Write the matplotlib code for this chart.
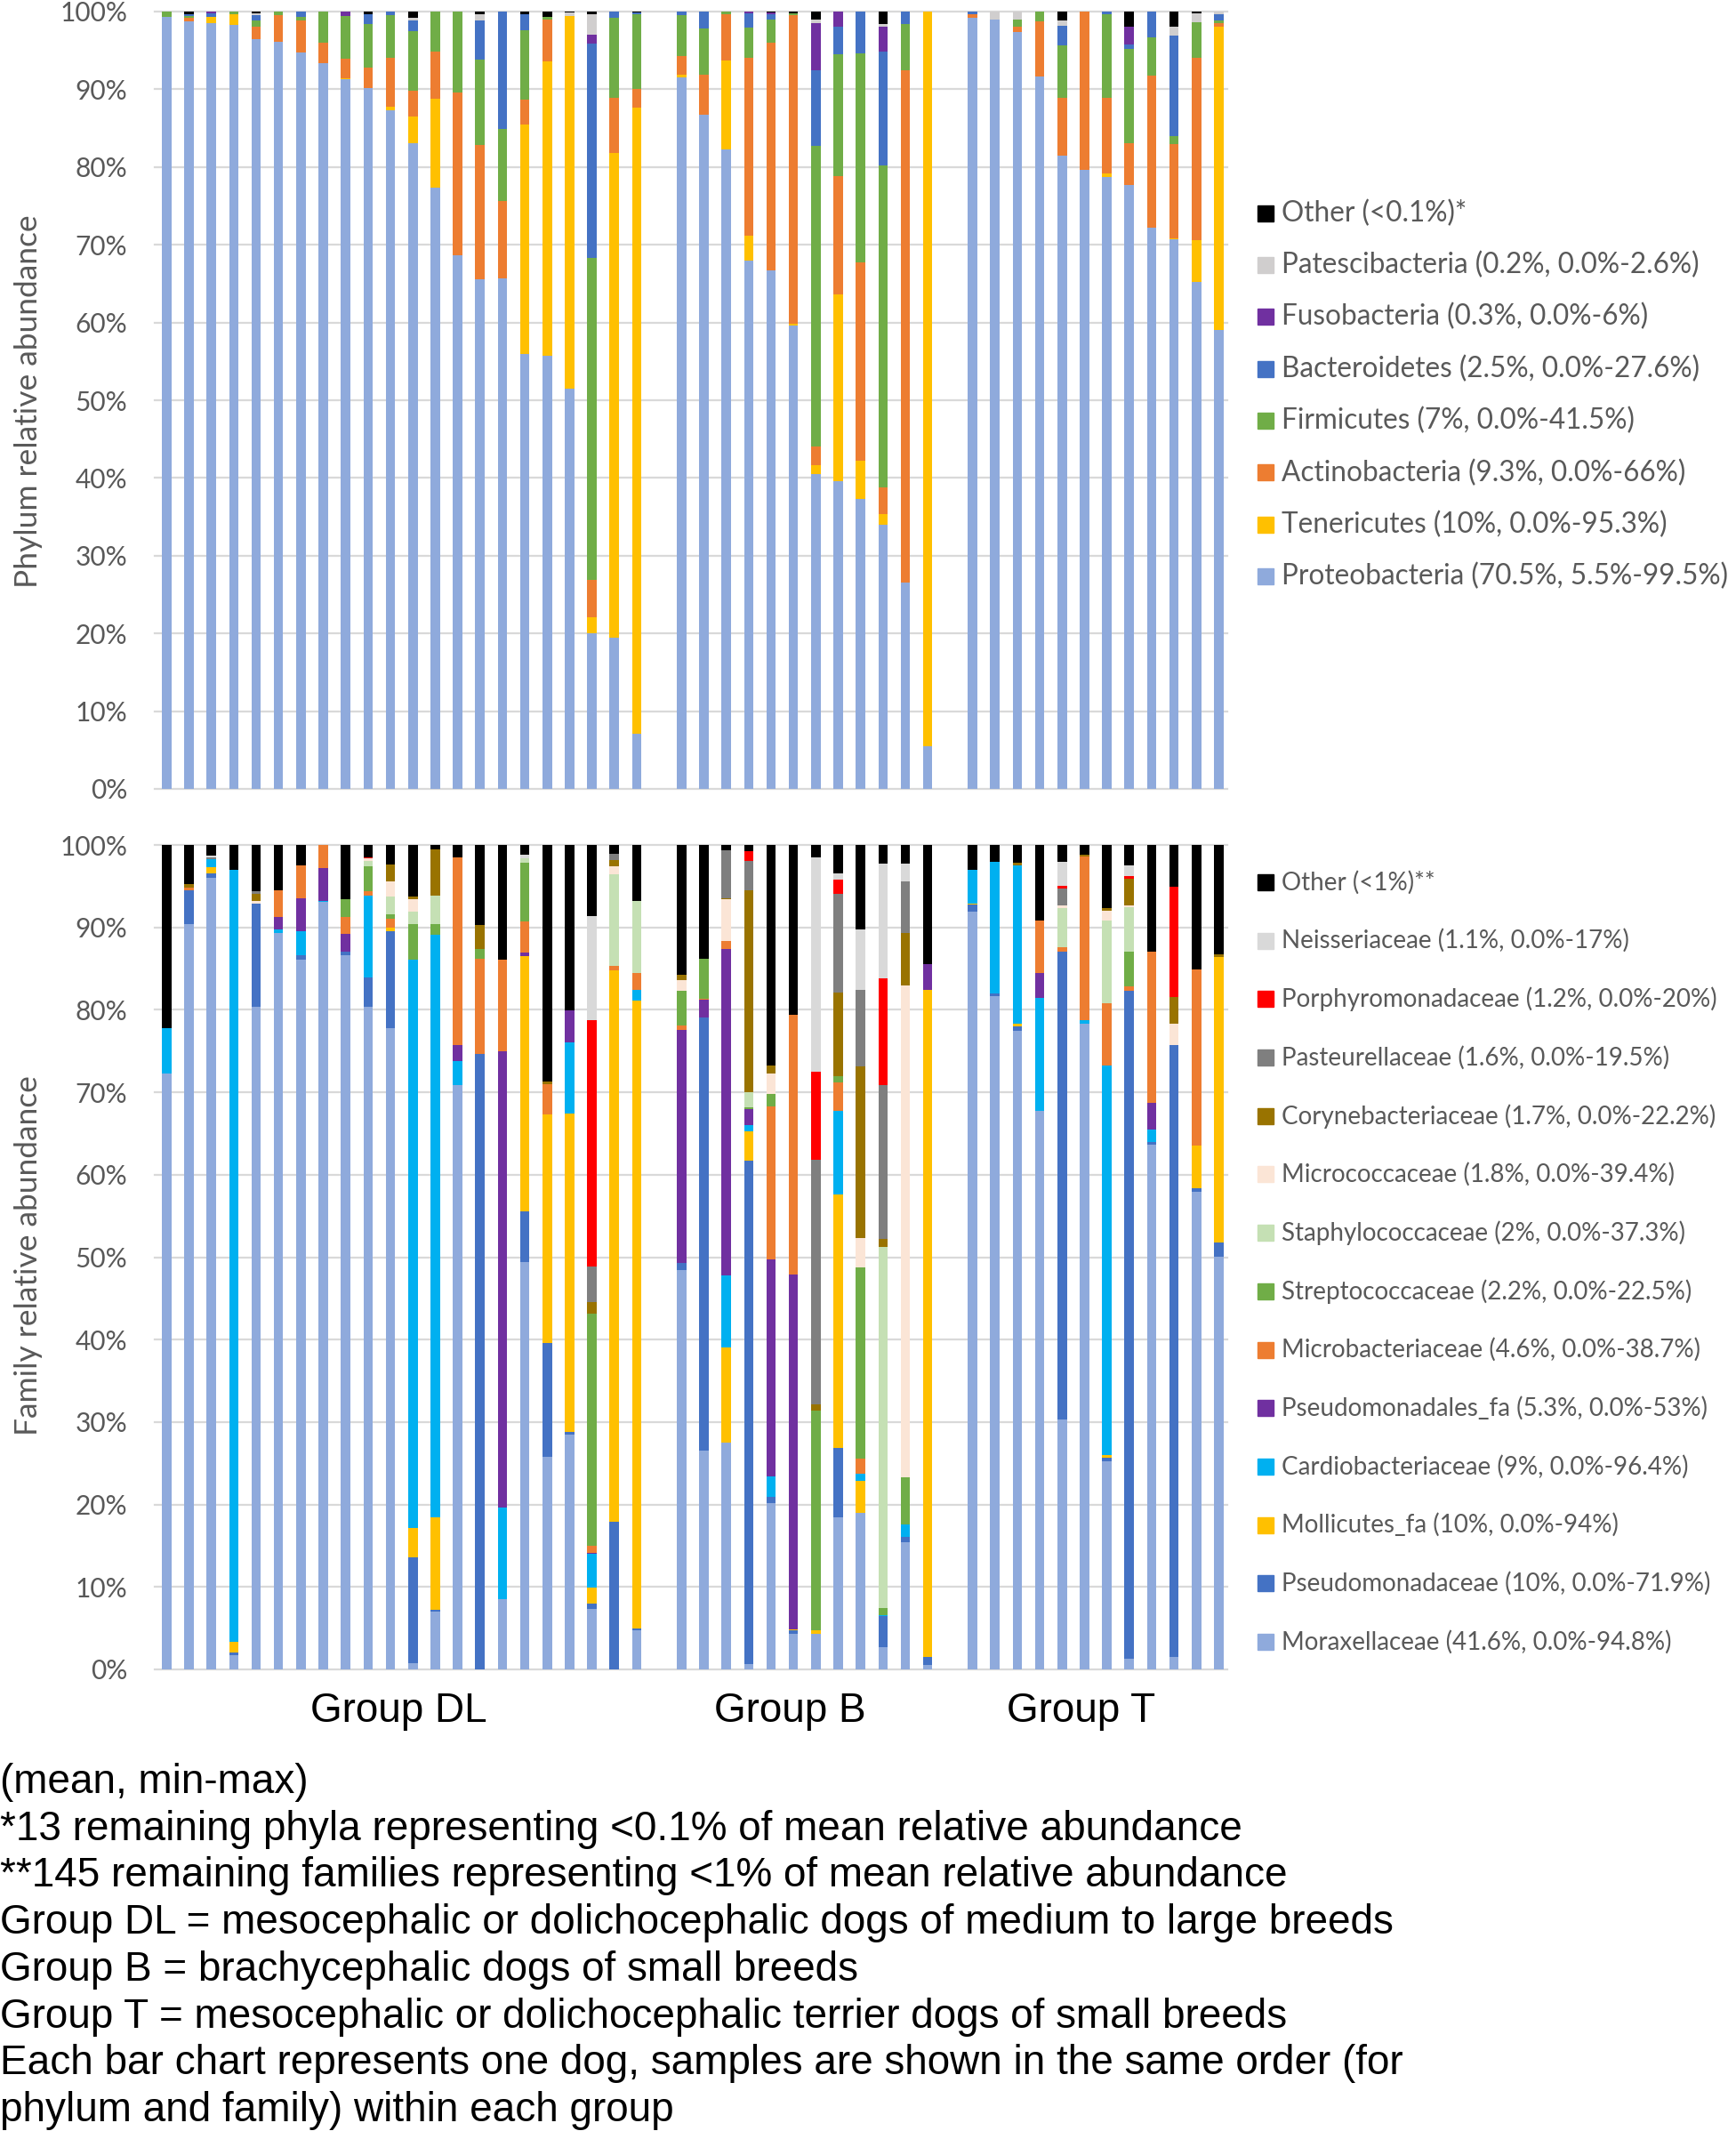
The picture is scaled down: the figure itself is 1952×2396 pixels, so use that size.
import numpy as np
import matplotlib.pyplot as plt
from matplotlib.patches import Rectangle
from matplotlib.transforms import blended_transform_factory

W, H = 1952, 2396

group_names = ['Group DL', 'Group B', 'Group T']
group_sizes = [22, 12, 12]

# ---- phylum level (DL x22 | B x12 | T x12), stacked bottom -> top ----
proteobacteria = [99.3, 98.7, 98.5, 98.3, 96.5, 96.1, 94.7, 93.4, 91.3, 90.2, 87.3, 83.1, 77.4, 68.6, 65.6, 65.7, 56.0, 55.7, 51.5, 20.0, 19.4, 7.1,
                  91.5, 86.7, 82.3, 68.0, 66.7, 59.6, 40.5, 39.6, 37.3, 34.0, 26.5, 5.5,
                  99.2, 99.0, 97.4, 91.6, 81.5, 79.6, 78.7, 77.7, 72.2, 70.7, 65.2, 59.0]
tenericutes = [0, 0, 0.8, 1.4, 0, 0, 0, 0, 0.1, 0, 0.5, 3.4, 11.4, 0, 0, 0, 29.5, 37.9, 47.9, 2.1, 62.4, 80.6,
               0.4, 0, 11.4, 3.2, 0, 0.2, 1.2, 24.0, 4.9, 1.4, 0, 94.5,
               0, 0, 0, 0, 0, 0, 0.5, 0, 0, 0.1, 5.4, 39.0]
actinobacteria = [0, 0.5, 0, 0, 1.5, 3.4, 4.1, 2.6, 2.5, 2.6, 6.3, 3.3, 6.0, 21.0, 17.2, 9.9, 3.2, 5.4, 0, 4.8, 7.1, 2.4,
                  2.4, 5.2, 6.0, 22.8, 29.3, 39.7, 2.3, 15.2, 25.5, 3.4, 65.9, 0,
                  0.4, 0, 0.6, 7.1, 7.4, 20.4, 9.7, 5.4, 19.6, 12.2, 23.4, 0.5]
firmicutes = [0.7, 0.2, 0, 0.3, 0.8, 0.5, 0.5, 4.0, 5.5, 5.6, 5.4, 7.7, 5.2, 10.4, 11.0, 9.3, 8.9, 0.3, 0, 41.4, 10.3, 9.6,
              5.2, 5.9, 0.3, 3.9, 3.0, 0.3, 38.7, 15.7, 26.9, 41.4, 6.0, 0,
              0, 0, 1.0, 1.3, 6.7, 0, 10.7, 12.1, 4.9, 1.0, 4.6, 0.3]
bacteroidetes = [0, 0.3, 0.5, 0, 0.7, 0, 0.7, 0, 0, 1.2, 0.5, 1.4, 0, 0, 5.1, 15.1, 2.1, 0, 0, 27.6, 0.8, 0.2,
                 0.5, 2.2, 0, 1.9, 0.7, 0, 9.8, 3.5, 5.4, 14.7, 1.6, 0,
                 0.4, 0, 0, 0, 2.6, 0, 0.4, 0.6, 3.3, 12.9, 0, 0.9]
fusobacteria = [0, 0, 0.2, 0, 0, 0, 0, 0, 0.6, 0, 0, 0, 0, 0, 0, 0, 0, 0, 0, 1.1, 0, 0,
                0, 0, 0, 0.2, 0.2, 0, 6.0, 2.0, 0, 3.2, 0, 0,
                0, 0, 0, 0, 0, 0, 0, 2.2, 0, 0, 0, 0]
patescibacteria = [0, 0, 0, 0, 0.3, 0, 0, 0, 0, 0, 0, 0.3, 0, 0, 0.8, 0, 0, 0, 0.5, 2.7, 0, 0,
                   0, 0, 0, 0, 0, 0, 0.5, 0, 0, 0.3, 0, 0,
                   0, 1.0, 1.0, 0, 0.6, 0, 0, 0, 0, 1.2, 1.2, 0.3]
other_phyla = [0, 0.3, 0, 0, 0.2, 0, 0, 0, 0, 0.4, 0, 0.8, 0, 0, 0.3, 0, 0.3, 0.7, 0.1, 0.3, 0, 0.1,
               0, 0, 0, 0, 0.1, 0.2, 1.0, 0, 0, 1.6, 0, 0,
               0, 0, 0, 0, 1.2, 0, 0, 2.0, 0, 1.9, 0.2, 0]

# ---- family level, same sample order ----
moraxellaceae = [72.3, 90.4, 96.0, 1.7, 80.4, 89.3, 86.1, 93.1, 86.6, 80.4, 77.8, 0.8, 7.0, 70.9, 0, 8.5, 49.4, 25.8, 28.5, 7.3, 0, 4.8,
                 48.4, 26.5, 27.5, 0.7, 20.2, 4.3, 4.3, 18.5, 19.0, 2.7, 15.4, 0.5,
                 91.9, 81.7, 77.5, 67.7, 30.3, 78.3, 25.2, 1.3, 63.7, 1.5, 57.9, 50.1]
pseudomonadaceae = [0, 4.1, 0.5, 0.3, 12.5, 0, 0.5, 0, 0.5, 3.5, 11.7, 12.8, 0.2, 0, 74.6, 0, 6.2, 13.8, 0.3, 0.7, 17.9, 0.2,
                    0.9, 52.6, 0, 61.0, 0.7, 0.5, 0, 8.4, 0, 3.8, 0.7, 1.0,
                    0.9, 0.3, 0.5, 0, 56.8, 0, 0.5, 81.0, 0.3, 74.2, 0.5, 1.7]
mollicutes_fa = [0, 0, 0.8, 1.3, 0, 0, 0, 0, 0, 0, 0.5, 3.5, 11.3, 0, 0, 0, 30.9, 27.7, 38.6, 1.9, 66.9, 76.1,
                 0, 0, 11.5, 3.6, 0, 0.1, 0.5, 30.7, 3.9, 0, 0, 80.9,
                 0.1, 0, 0.3, 0, 0, 0, 0.3, 0, 0, 0, 5.1, 34.6]
cardiobacteriaceae = [5.5, 0, 1.0, 93.7, 0, 0.5, 2.9, 0.1, 0, 10.0, 0, 69.0, 70.6, 2.9, 0, 11.1, 0, 0, 8.6, 4.1, 0, 1.3,
                      0, 0, 8.8, 0.7, 2.5, 0, 0, 10.1, 0.8, 0.1, 1.5, 0,
                      4.1, 15.9, 19.2, 13.7, 0, 0.5, 47.3, 0, 1.5, 0, 0, 0]
pseudomonadales_fa = [0, 0, 0, 0, 0, 1.5, 4.0, 4.0, 2.1, 0, 0, 0, 0, 1.9, 0, 55.4, 0.5, 0, 3.9, 0.1, 0, 0,
                      28.3, 2.1, 39.6, 2.0, 26.3, 43.0, 0, 0, 0, 0, 0, 3.1,
                      0, 0, 0, 3.1, 0, 0, 0, 0, 3.2, 0, 0, 0]
microbacteriaceae = [0, 0.3, 0, 0, 0, 3.2, 4.0, 2.8, 2.1, 0.5, 1.1, 0, 0, 22.8, 11.6, 11.1, 3.7, 3.7, 0, 0.9, 0.5, 2.1,
                     0.5, 0.1, 1.0, 0, 18.6, 31.5, 0, 3.5, 1.9, 0, 0, 0,
                     0, 0, 0, 6.3, 0.5, 19.8, 7.5, 0.5, 18.4, 0, 21.4, 0]
streptococcaceae = [0, 0, 0, 0, 0, 0, 0, 0, 2.1, 3.0, 0.5, 4.3, 1.3, 0, 1.2, 0, 7.1, 0, 0, 28.1, 0, 0,
                    4.2, 4.9, 0, 0.2, 1.5, 0, 26.6, 0.7, 23.2, 0.8, 5.7, 0,
                    0, 0, 0, 0, 0, 0, 0, 4.3, 0, 0, 0, 0]
staphylococcaceae = [0, 0, 0, 0, 0, 0, 0, 0, 0, 0.7, 2.1, 1.5, 3.5, 0, 0, 0, 0.6, 0, 0, 0, 11.1, 8.7,
                     0, 0, 0, 1.8, 0, 0, 0, 0, 0, 43.8, 0, 0,
                     0, 0, 0, 0, 4.7, 0, 10.0, 5.3, 0, 0, 0, 0]
micrococcaceae = [0, 0, 0, 0, 0.3, 0, 0, 0, 0, 0.3, 1.9, 1.5, 0, 0, 0, 0, 0, 0, 0, 0, 1.0, 0,
                  1.3, 0, 5.0, 0, 2.5, 0, 0, 0, 3.5, 0, 59.7, 0,
                  0, 0, 0, 0, 0.4, 0, 1.2, 0.3, 0, 2.6, 0, 0]
corynebacteriaceae = [0, 0.4, 0, 0, 0.9, 0, 0, 0, 0, 0, 2.0, 0.3, 5.6, 0, 2.9, 0, 0, 0.3, 0, 1.5, 0.8, 0,
                      0.7, 0, 0.1, 24.5, 1.0, 0, 0.7, 10.2, 20.8, 1.0, 6.3, 0,
                      0, 0, 0.3, 0, 0, 0.2, 0.3, 3.2, 0, 3.2, 0, 0.3]
pasteurellaceae = [0, 0, 0.2, 0, 0.3, 0, 0, 0, 0, 0, 0, 0, 0, 0, 0, 0, 0, 0, 0, 4.3, 0.7, 0,
                   0, 0, 5.9, 3.6, 0, 0, 29.7, 12.0, 9.3, 18.7, 6.3, 0,
                   0, 0, 0, 0, 2.0, 0, 0, 0, 0, 0, 0, 0]
porphyromonadaceae = [0, 0, 0, 0, 0, 0, 0, 0, 0, 0.1, 0, 0, 0, 0, 0, 0, 0, 0, 0, 29.9, 0, 0,
                      0, 0, 0, 1.1, 0, 0, 10.7, 1.7, 0, 12.9, 0, 0,
                      0, 0, 0, 0, 0.3, 0, 0, 0.3, 0, 13.4, 0, 0]
neisseriaceae = [0, 0, 0.2, 0, 0, 0, 0, 0, 0, 0, 0, 0, 0, 0, 0, 0, 0.4, 0, 0, 12.6, 0, 0,
                 0, 0, 0, 0, 0, 0, 26.0, 0.7, 7.3, 13.9, 2.1, 0,
                 0, 0, 0, 0, 2.9, 0, 0, 1.3, 0, 0, 0, 0]
other_families = [22.2, 4.8, 1.3, 3.0, 5.6, 5.5, 2.5, 0, 6.6, 1.5, 2.4, 6.3, 0.5, 1.5, 9.7, 13.9, 1.2, 28.7, 20.1, 8.6, 1.1, 6.8,
                  15.7, 13.8, 0.6, 0.8, 26.7, 20.6, 1.5, 3.5, 10.3, 2.3, 2.3, 14.5,
                  3.0, 2.1, 2.2, 9.2, 2.1, 1.2, 7.7, 2.5, 12.9, 5.1, 15.1, 13.3]

phylum_series = [proteobacteria, tenericutes, actinobacteria, firmicutes,
                 bacteroidetes, fusobacteria, patescibacteria, other_phyla]
phylum_labels = ['Proteobacteria (70.5%, 5.5%-99.5%)', 'Tenericutes (10%, 0.0%-95.3%)',
                 'Actinobacteria (9.3%, 0.0%-66%)', 'Firmicutes (7%, 0.0%-41.5%)',
                 'Bacteroidetes (2.5%, 0.0%-27.6%)', 'Fusobacteria (0.3%, 0.0%-6%)',
                 'Patescibacteria (0.2%, 0.0%-2.6%)', 'Other (<0.1%)*']
phylum_colors = ['#8FAADC', '#FFC000', '#ED7D31', '#70AD47',
                 '#4472C4', '#7030A0', '#D0CECE', '#000000']

family_series = [moraxellaceae, pseudomonadaceae, mollicutes_fa, cardiobacteriaceae,
                 pseudomonadales_fa, microbacteriaceae, streptococcaceae, staphylococcaceae,
                 micrococcaceae, corynebacteriaceae, pasteurellaceae, porphyromonadaceae,
                 neisseriaceae, other_families]
family_labels = ['Moraxellaceae (41.6%, 0.0%-94.8%)', 'Pseudomonadaceae (10%, 0.0%-71.9%)',
                 'Mollicutes_fa (10%, 0.0%-94%)', 'Cardiobacteriaceae (9%, 0.0%-96.4%)',
                 'Pseudomonadales_fa (5.3%, 0.0%-53%)', 'Microbacteriaceae (4.6%, 0.0%-38.7%)',
                 'Streptococcaceae (2.2%, 0.0%-22.5%)', 'Staphylococcaceae (2%, 0.0%-37.3%)',
                 'Micrococcaceae (1.8%, 0.0%-39.4%)', 'Corynebacteriaceae (1.7%, 0.0%-22.2%)',
                 'Pasteurellaceae (1.6%, 0.0%-19.5%)', 'Porphyromonadaceae (1.2%, 0.0%-20%)',
                 'Neisseriaceae (1.1%, 0.0%-17%)', 'Other (<1%)**']
family_colors = ['#8FAADC', '#4472C4', '#FFC000', '#00B0F0', '#7030A0', '#ED7D31',
                 '#70AD47', '#C5E0B4', '#FBE5D6', '#997300', '#7F7F7F', '#FF0000',
                 '#D9D9D9', '#000000']

notes = ['(mean, min-max)',
         '*13 remaining phyla representing <0.1% of mean relative abundance',
         '**145 remaining families representing <1% of mean relative abundance',
         'Group DL = mesocephalic or dolichocephalic dogs of medium to large breeds',
         'Group B = brachycephalic dogs of small breeds',
         'Group T = mesocephalic or dolichocephalic terrier dogs of small breeds',
         'Each bar chart represents one dog, samples are shown in the same order (for',
         'phylum and family) within each group']

# bar positions: one empty slot between groups
xpos = []
start = 0
for n in group_sizes:
    xpos += list(range(start, start + n))
    start += n + 1
xpos = np.array(xpos)

GREY = '#595959'
KEYFONT = 'Lato'


def stacked(ax, series, colors):
    bottom = np.zeros(len(xpos))
    for vals, col in zip(series, colors):
        vals = np.array(vals, dtype=float)
        ax.bar(xpos, vals, bottom=bottom, width=0.42, color=col, linewidth=0, zorder=2)
        bottom += vals
    ax.set_xlim(-0.53, 47.38)
    ax.set_ylim(0, 100)
    ax.set_yticks(range(0, 101, 10))
    ax.set_yticklabels([f'{v}%' for v in range(0, 101, 10)])
    ax.set_xticks([])
    ax.grid(axis='y', color='#D9D9D9', linewidth=1.6, zorder=0)
    ax.set_axisbelow(True)
    for gl in ax.get_ygridlines():
        gl.set_clip_on(False)
    for s in ax.spines.values():
        s.set_visible(False)
    ax.tick_params(axis='y', length=0, pad=22, labelsize=21.5, labelcolor=GREY)
    for lab in ax.get_yticklabels():
        lab.set_fontfamily(KEYFONT)


def draw_key(fig, labels, colors, y_first, pitch, size):
    # labels given bottom -> top, key is listed top -> bottom
    for i, (lab, col) in enumerate(zip(labels[::-1], colors[::-1])):
        yc = y_first + i * pitch
        fig.patches.append(Rectangle((1414 / W, 1 - (yc + 9) / H), 18 / W, 18 / H,
                                     transform=fig.transFigure, color=col))
        fig.text(1441 / W, 1 - yc / H, lab, fontsize=size, color=GREY,
                 family=KEYFONT, va='center', ha='left')


fig = plt.figure(figsize=(W / 100, H / 100), dpi=100)
ax1 = fig.add_axes([174 / W, 1 - 887 / H, 1206 / W, 874 / H])
ax2 = fig.add_axes([174 / W, 1 - 1877 / H, 1206 / W, 927 / H])

stacked(ax1, phylum_series, phylum_colors)
stacked(ax2, family_series, family_colors)

fig.text(32 / W, 1 - 451 / H, 'Phylum relative abundance', rotation=90,
         fontsize=25.5, color=GREY, family=KEYFONT, va='center', ha='center')
fig.text(32 / W, 1 - 1412 / H, 'Family relative abundance', rotation=90,
         fontsize=25.5, color=GREY, family=KEYFONT, va='center', ha='center')

draw_key(fig, phylum_labels, phylum_colors, 239.5, 58.4, 22.7)
draw_key(fig, family_labels, family_colors, 992, 65.7, 20)

# group names under the family chart
trans = blended_transform_factory(ax2.transData, fig.transFigure)
for name, xc in zip(group_names, [10.35, 27.83, 40.83]):
    ax2.text(xc, 1 - 1936 / H, name, transform=trans, fontsize=33,
             family='Liberation Sans', ha='center', va='baseline')

for i, line in enumerate(notes):
    fig.text(0, 1 - (2016 + 52.7 * i) / H, line, fontsize=33,
             family='Liberation Sans', ha='left', va='baseline')

fig.savefig('out.png', dpi=100)
